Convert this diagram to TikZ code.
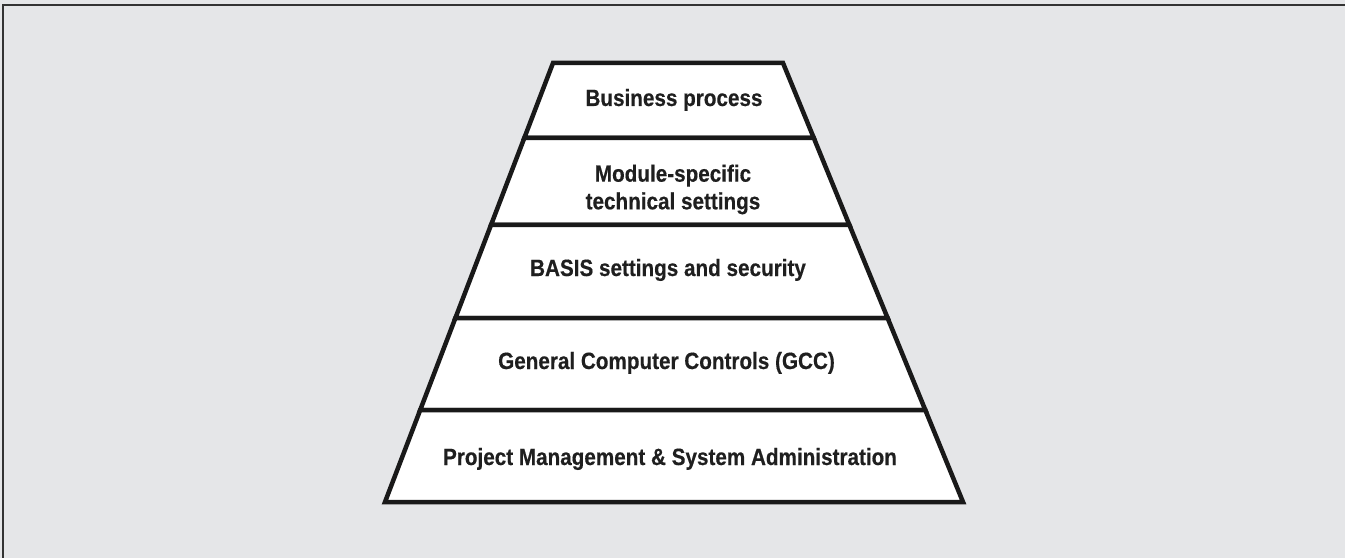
\documentclass[tikz,border=0pt]{standalone}
\usepackage{fontspec}
\setmainfont[FakeStretch=0.88,BoldFeatures={FakeBold=0.4}]{Liberation Sans}
\begin{document}
\begin{tikzpicture}[x=1bp,y=-1bp,
  layerbox/.style={fill=white,draw=black!90,line width=4.5bp,line join=miter},
  layertext/.style={font=\bfseries\fontsize{23.5bp}{27.6bp}\selectfont,text=black!88,align=center,inner sep=0pt,anchor=base},
  frameline/.style={draw=black!80,line width=2bp}]
  % canvas
  \fill[fill={rgb,255:red,229;green,230;blue,232}] (0,0) rectangle (1345,558);
  \useasboundingbox (0,0) rectangle (1345,558);
  \draw[frameline] (3,558) -- (3,5) -- (1345,5);
  % pyramid levels: y = 63, 138, 225, 318, 410, 502
  \coordinate (l0) at (553,63);   \coordinate (r0) at (783,63);
  \coordinate (l1) at (524.3,138);\coordinate (r1) at (813.8,138);
  \coordinate (l2) at (491,225);  \coordinate (r2) at (849.4,225);
  \coordinate (l3) at (455.4,318);\coordinate (r3) at (887.6,318);
  \coordinate (l4) at (420.2,410);\coordinate (r4) at (925.3,410);
  \coordinate (l5) at (385,502);  \coordinate (r5) at (963,502);
  \draw[layerbox] (l0) -- (r0) -- (r1) -- (l1) -- cycle;
  \draw[layerbox] (l1) -- (r1) -- (r2) -- (l2) -- cycle;
  \draw[layerbox] (l2) -- (r2) -- (r3) -- (l3) -- cycle;
  \draw[layerbox] (l3) -- (r3) -- (r4) -- (l4) -- cycle;
  \draw[layerbox] (l4) -- (r4) -- (r5) -- (l5) -- cycle;
  % labels (placed on their last baselines)
  \node[layertext] (t1) at (674,106) {Business process};
  \node[layertext] (t2) at (673,209.3) {Module-specific\\technical settings};
  \node[layertext] (t3) at (668,276) {BASIS settings and security};
  \node[layertext] (t4) at (666.5,369) {General Computer Controls (GCC)};
  \node[layertext] (t5) at (670,465) {Project Management \& System Administration};
\end{tikzpicture}
\end{document}
